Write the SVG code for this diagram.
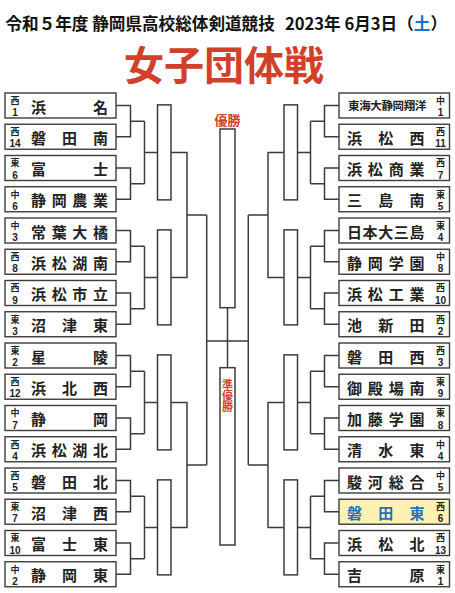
<svg xmlns="http://www.w3.org/2000/svg" width="455" height="593" viewBox="0 0 455 593">
<style>
text{font-family:"Noto Sans CJK JP","Noto Sans CJK SC",sans-serif;}
.bx{fill:#fff;stroke:#3c3c3c;stroke-width:1.4;}
.hl{fill:#fdf1b3;}
.nm{font-size:15px;font-weight:700;fill:#222;text-anchor:middle;}
.nm7{font-size:11.5px;font-weight:700;fill:#222;text-anchor:middle;}
.blue{fill:#1d6fc0;}
.sd{font-size:9px;font-weight:700;fill:#222;text-anchor:middle;}
.sn{font-family:"Liberation Sans",Arial,sans-serif;font-size:10px;font-weight:700;fill:#222;text-anchor:middle;}
.ln{fill:none;stroke:#3c3c3c;stroke-width:1.5;}
.slot{fill:#fff;stroke:#3c3c3c;stroke-width:1.5;}
.red{fill:#d23f2a;font-weight:700;text-anchor:middle;}
</style>
<rect width="455" height="593" fill="#fff"/>
<g id="title">
<text x="5.5" y="30" style="font-size:16.6px;font-weight:700;fill:#111">令和５年度 静岡県高校総体剣道競技</text>
<text x="447" y="30" style="font-size:16.6px;font-weight:700;fill:#111;text-anchor:end">2023年 6月3日（<tspan class="blue">土</tspan>）</text>
<text x="224" y="79.5" class="red" style="font-size:40px">女子団体戦</text>
</g>
<g id="connectors">
<path class="ln" d="M116,105.5H130.5V136.75H116M116,168H130.5V199.25H116M116,230.5H130.5V261.75H116M116,293H130.5V324.25H116M116,355.5H130.5V386.75H116M116,418H130.5V449.25H116M116,480.5H130.5V511.75H116M116,543H130.5V574.25H116"/>
<path class="ln" d="M130.5,121.125H144.5M130.5,183.625H144.5M144.5,121.125V183.625M144.5,152.375H157.5M130.5,246.125H144.5M130.5,308.625H144.5M144.5,246.125V308.625M144.5,277.375H157.5M130.5,371.125H144.5M130.5,433.625H144.5M144.5,371.125V433.625M144.5,402.375H157.5M130.5,496.125H144.5M130.5,558.625H144.5M144.5,496.125V558.625M144.5,527.375H157.5"/>
<path class="ln" d="M171,152.375H187V277.375H171M187,214.875H206.7M171,402.375H187V527.375H171M187,464.875H206.7M206.7,214.875V464.875M206.7,341H248.3"/>
<path class="ln" d="M339,105.5H324.5V136.75H339M339,168H324.5V199.25H339M339,230.5H324.5V261.75H339M339,293H324.5V324.25H339M339,355.5H324.5V386.75H339M339,418H324.5V449.25H339M339,480.5H324.5V511.75H339M339,543H324.5V574.25H339"/>
<path class="ln" d="M324.5,121.125H310.5M324.5,183.625H310.5M310.5,121.125V183.625M310.5,152.375H297.5M324.5,246.125H310.5M324.5,308.625H310.5M310.5,246.125V308.625M310.5,277.375H297.5M324.5,371.125H310.5M324.5,433.625H310.5M310.5,371.125V433.625M310.5,402.375H297.5M324.5,496.125H310.5M324.5,558.625H310.5M310.5,496.125V558.625M310.5,527.375H297.5"/>
<path class="ln" d="M284,152.375H268V277.375H284M268,214.875H248.3M284,402.375H268V527.375H284M268,464.875H248.3M248.3,214.875V464.875"/>
<path class="ln" d="M227.5,307.7V367.7"/>
</g>
<g id="slots">
<rect class="slot" x="157.5" y="104.875" width="13.5" height="95"/>
<rect class="slot" x="157.5" y="229.875" width="13.5" height="95"/>
<rect class="slot" x="157.5" y="354.875" width="13.5" height="95"/>
<rect class="slot" x="157.5" y="479.875" width="13.5" height="95"/>
<rect class="slot" x="284" y="104.875" width="13.5" height="95"/>
<rect class="slot" x="284" y="229.875" width="13.5" height="95"/>
<rect class="slot" x="284" y="354.875" width="13.5" height="95"/>
<rect class="slot" x="284" y="479.875" width="13.5" height="95"/>
</g>
<g id="winner">
<text x="227.5" y="125" class="red" style="font-size:13px">優勝</text>
<rect class="slot" x="220" y="129" width="15" height="178.7"/>
</g>
<g id="runnerup">
<rect class="slot" x="220" y="367.7" width="15" height="177.3"/>
<text x="227.5 227.5 227.5" y="389 400 411" class="red" style="font-size:11px">準優勝</text>
</g>
<g id="L1"><rect class="bx" x="5" y="93" width="111" height="25"/><text class="sd" x="15" y="103.8">西</text><text class="sn" x="15" y="116.2">1</text><text class="nm" x="38.5 100.5" y="112.5">浜名</text></g>
<g id="L2"><rect class="bx" x="5" y="124.25" width="111" height="25"/><text class="sd" x="15" y="135.05">西</text><text class="sn" x="15" y="147.45">14</text><text class="nm" x="38.5 69.5 100.5" y="143.75">磐田南</text></g>
<g id="L3"><rect class="bx" x="5" y="155.5" width="111" height="25"/><text class="sd" x="15" y="166.3">東</text><text class="sn" x="15" y="178.7">6</text><text class="nm" x="38.5 100.5" y="175">富士</text></g>
<g id="L4"><rect class="bx" x="5" y="186.75" width="111" height="25"/><text class="sd" x="15" y="197.55">中</text><text class="sn" x="15" y="209.95">6</text><text class="nm" x="38.5 59.17 79.83 100.5" y="206.25">静岡農業</text></g>
<g id="L5"><rect class="bx" x="5" y="218" width="111" height="25"/><text class="sd" x="15" y="228.8">中</text><text class="sn" x="15" y="241.2">3</text><text class="nm" x="38.5 59.17 79.83 100.5" y="237.5">常葉大橘</text></g>
<g id="L6"><rect class="bx" x="5" y="249.25" width="111" height="25"/><text class="sd" x="15" y="260.05">西</text><text class="sn" x="15" y="272.45">8</text><text class="nm" x="38.5 59.17 79.83 100.5" y="268.75">浜松湖南</text></g>
<g id="L7"><rect class="bx" x="5" y="280.5" width="111" height="25"/><text class="sd" x="15" y="291.3">西</text><text class="sn" x="15" y="303.7">9</text><text class="nm" x="38.5 59.17 79.83 100.5" y="300">浜松市立</text></g>
<g id="L8"><rect class="bx" x="5" y="311.75" width="111" height="25"/><text class="sd" x="15" y="322.55">東</text><text class="sn" x="15" y="334.95">3</text><text class="nm" x="38.5 69.5 100.5" y="331.25">沼津東</text></g>
<g id="L9"><rect class="bx" x="5" y="343" width="111" height="25"/><text class="sd" x="15" y="353.8">東</text><text class="sn" x="15" y="366.2">2</text><text class="nm" x="38.5 100.5" y="362.5">星陵</text></g>
<g id="L10"><rect class="bx" x="5" y="374.25" width="111" height="25"/><text class="sd" x="15" y="385.05">西</text><text class="sn" x="15" y="397.45">12</text><text class="nm" x="38.5 69.5 100.5" y="393.75">浜北西</text></g>
<g id="L11"><rect class="bx" x="5" y="405.5" width="111" height="25"/><text class="sd" x="15" y="416.3">中</text><text class="sn" x="15" y="428.7">7</text><text class="nm" x="38.5 100.5" y="425">静岡</text></g>
<g id="L12"><rect class="bx" x="5" y="436.75" width="111" height="25"/><text class="sd" x="15" y="447.55">西</text><text class="sn" x="15" y="459.95">4</text><text class="nm" x="38.5 59.17 79.83 100.5" y="456.25">浜松湖北</text></g>
<g id="L13"><rect class="bx" x="5" y="468" width="111" height="25"/><text class="sd" x="15" y="478.8">西</text><text class="sn" x="15" y="491.2">5</text><text class="nm" x="38.5 69.5 100.5" y="487.5">磐田北</text></g>
<g id="L14"><rect class="bx" x="5" y="499.25" width="111" height="25"/><text class="sd" x="15" y="510.05">東</text><text class="sn" x="15" y="522.45">7</text><text class="nm" x="38.5 69.5 100.5" y="518.75">沼津西</text></g>
<g id="L15"><rect class="bx" x="5" y="530.5" width="111" height="25"/><text class="sd" x="15" y="541.3">東</text><text class="sn" x="15" y="553.7">10</text><text class="nm" x="38.5 69.5 100.5" y="550">富士東</text></g>
<g id="L16"><rect class="bx" x="5" y="561.75" width="111" height="25"/><text class="sd" x="15" y="572.55">中</text><text class="sn" x="15" y="584.95">2</text><text class="nm" x="38.5 69.5 100.5" y="581.25">静岡東</text></g>
<g id="R1"><rect class="bx" x="339" y="93" width="110.5" height="25"/><text class="nm7" x="353.8 364.9 376 387.2 398.3 409.4 420.5" y="109.7">東海大静岡翔洋</text><text class="sd" x="440.5" y="103.8">中</text><text class="sn" x="440.5" y="116.2">1</text></g>
<g id="R2"><rect class="bx" x="339" y="124.25" width="110.5" height="25"/><text class="nm" x="354.5 385.75 417" y="143.75">浜松西</text><text class="sd" x="440.5" y="135.05">西</text><text class="sn" x="440.5" y="147.45">11</text></g>
<g id="R3"><rect class="bx" x="339" y="155.5" width="110.5" height="25"/><text class="nm" x="354.5 375.33 396.17 417" y="175">浜松商業</text><text class="sd" x="440.5" y="166.3">西</text><text class="sn" x="440.5" y="178.7">7</text></g>
<g id="R4"><rect class="bx" x="339" y="186.75" width="110.5" height="25"/><text class="nm" x="354.5 385.75 417" y="206.25">三島南</text><text class="sd" x="440.5" y="197.55">東</text><text class="sn" x="440.5" y="209.95">5</text></g>
<g id="R5"><rect class="bx" x="339" y="218" width="110.5" height="25"/><text class="nm" x="354.5 370.13 385.75 401.38 417" y="237.5">日本大三島</text><text class="sd" x="440.5" y="228.8">東</text><text class="sn" x="440.5" y="241.2">4</text></g>
<g id="R6"><rect class="bx" x="339" y="249.25" width="110.5" height="25"/><text class="nm" x="354.5 375.33 396.17 417" y="268.75">静岡学園</text><text class="sd" x="440.5" y="260.05">中</text><text class="sn" x="440.5" y="272.45">8</text></g>
<g id="R7"><rect class="bx" x="339" y="280.5" width="110.5" height="25"/><text class="nm" x="354.5 375.33 396.17 417" y="300">浜松工業</text><text class="sd" x="440.5" y="291.3">西</text><text class="sn" x="440.5" y="303.7">10</text></g>
<g id="R8"><rect class="bx" x="339" y="311.75" width="110.5" height="25"/><text class="nm" x="354.5 385.75 417" y="331.25">池新田</text><text class="sd" x="440.5" y="322.55">西</text><text class="sn" x="440.5" y="334.95">2</text></g>
<g id="R9"><rect class="bx" x="339" y="343" width="110.5" height="25"/><text class="nm" x="354.5 385.75 417" y="362.5">磐田西</text><text class="sd" x="440.5" y="353.8">西</text><text class="sn" x="440.5" y="366.2">3</text></g>
<g id="R10"><rect class="bx" x="339" y="374.25" width="110.5" height="25"/><text class="nm" x="354.5 375.33 396.17 417" y="393.75">御殿場南</text><text class="sd" x="440.5" y="385.05">東</text><text class="sn" x="440.5" y="397.45">9</text></g>
<g id="R11"><rect class="bx" x="339" y="405.5" width="110.5" height="25"/><text class="nm" x="354.5 375.33 396.17 417" y="425">加藤学園</text><text class="sd" x="440.5" y="416.3">東</text><text class="sn" x="440.5" y="428.7">8</text></g>
<g id="R12"><rect class="bx" x="339" y="436.75" width="110.5" height="25"/><text class="nm" x="354.5 385.75 417" y="456.25">清水東</text><text class="sd" x="440.5" y="447.55">中</text><text class="sn" x="440.5" y="459.95">4</text></g>
<g id="R13"><rect class="bx" x="339" y="468" width="110.5" height="25"/><text class="nm" x="354.5 375.33 396.17 417" y="487.5">駿河総合</text><text class="sd" x="440.5" y="478.8">中</text><text class="sn" x="440.5" y="491.2">5</text></g>
<g id="R14"><rect class="bx hl" x="339" y="499.25" width="110.5" height="25"/><text class="nm blue" x="354.5 385.75 417" y="518.75">磐田東</text><text class="sd" x="440.5" y="510.05">西</text><text class="sn" x="440.5" y="522.45">6</text></g>
<g id="R15"><rect class="bx" x="339" y="530.5" width="110.5" height="25"/><text class="nm" x="354.5 385.75 417" y="550">浜松北</text><text class="sd" x="440.5" y="541.3">西</text><text class="sn" x="440.5" y="553.7">13</text></g>
<g id="R16"><rect class="bx" x="339" y="561.75" width="110.5" height="25"/><text class="nm" x="354.5 417" y="581.25">吉原</text><text class="sd" x="440.5" y="572.55">東</text><text class="sn" x="440.5" y="584.95">1</text></g>
</svg>
